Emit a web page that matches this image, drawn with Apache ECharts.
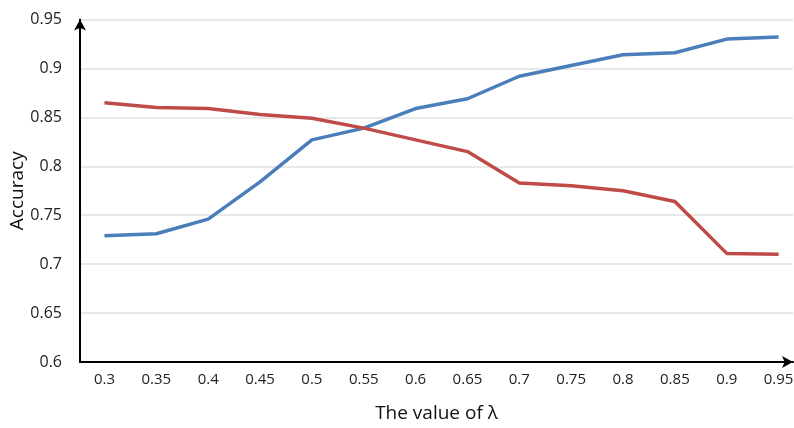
<!DOCTYPE html>
<html>
<head>
<meta charset="utf-8">
<script src="https://cdn.jsdelivr.net/npm/echarts@6/dist/echarts.min.js"></script>
<style>html,body{margin:0;padding:0;background:#fff;}#c{width:794px;height:428px;}</style>
</head>
<body>
<div id="c"></div>
<script>
var lambdas = [0.3, 0.35, 0.4, 0.45, 0.5, 0.55, 0.6, 0.65, 0.7, 0.75, 0.8, 0.85, 0.9, 0.95];
var lambdaLabels = ['0.3','0.35','0.4','0.45','0.5','0.55','0.6','0.65','0.7','0.75','0.8','0.85','0.9','0.95'];
var blueSeries = [0.729, 0.731, 0.746, 0.784, 0.827, 0.839, 0.859, 0.869, 0.892, 0.903, 0.914, 0.916, 0.930, 0.932];
var redSeries  = [0.865, 0.860, 0.859, 0.853, 0.849, 0.839, 0.827, 0.815, 0.783, 0.780, 0.775, 0.764, 0.711, 0.710];
var yTicks = ['0.6','0.65','0.7','0.75','0.8','0.85','0.9','0.95'];

function pairs(vals){ return lambdas.map(function(l,i){ return [l, vals[i]]; }); }

var chart = echarts.init(document.getElementById('c'), null, {renderer:'canvas'});
chart.setOption({
  animation: false,
  grid: {left: 80, top: 19.5, right: 1, bottom: 66, containLabel: false, outerBoundsMode: 'none'},
  xAxis: {
    type: 'value',
    min: 0.2764, max: 0.9639,
    name: 'The value of λ',
    nameLocation: 'middle',
    nameGap: 42,
    nameMoveOverlap: false,
    nameTextStyle: {fontFamily: 'Open Sans', fontSize: 19, color: '#111'},
    axisLine: {show: true, lineStyle: {color: '#000', width: 2}, symbol: ['none','arrow'], symbolSize: [9, 11]},
    axisTick: {show: false},
    splitLine: {show: false},
    axisLabel: {
      customValues: lambdas,
      margin: 10,
      fontFamily: 'Liberation Sans Narrow, Open Sans',
      fontSize: 15,
      color: '#222',
      formatter: function(v){ var i = lambdas.findIndex(function(l){return Math.abs(l-v)<1e-6;}); return i>=0 ? lambdaLabels[i] : ''; }
    }
  },
  yAxis: {
    type: 'value',
    min: 0.6, max: 0.95, interval: 0.05,
    name: 'Accuracy',
    nameLocation: 'middle',
    nameGap: 53,
    nameMoveOverlap: false,
    nameRotate: 90,
    nameTextStyle: {fontFamily: 'Open Sans', fontSize: 19, color: '#111'},
    axisLine: {show: true, lineStyle: {color: '#000', width: 2}, symbol: ['none','arrow'], symbolSize: [9, 11]},
    axisTick: {show: false},
    splitLine: {show: true, lineStyle: {color: '#e0e0e0', width: 1.5}},
    axisLabel: {
      margin: 18,
      fontFamily: 'Open Sans',
      fontSize: 16,
      color: '#222',
      formatter: function(v){ var i = Math.round((v-0.6)/0.05); return yTicks[i] !== undefined ? yTicks[i] : ''; }
    }
  },
  series: [
    {type: 'line', data: pairs(blueSeries), symbol: 'none', lineStyle: {color: '#4A7EBB', width: 3.5}, itemStyle:{color:'#4A7EBB'}},
    {type: 'line', data: pairs(redSeries), symbol: 'none', lineStyle: {color: '#BE4B48', width: 3.5}, itemStyle:{color:'#BE4B48'}}
  ]
});
</script>
</body>
</html>
